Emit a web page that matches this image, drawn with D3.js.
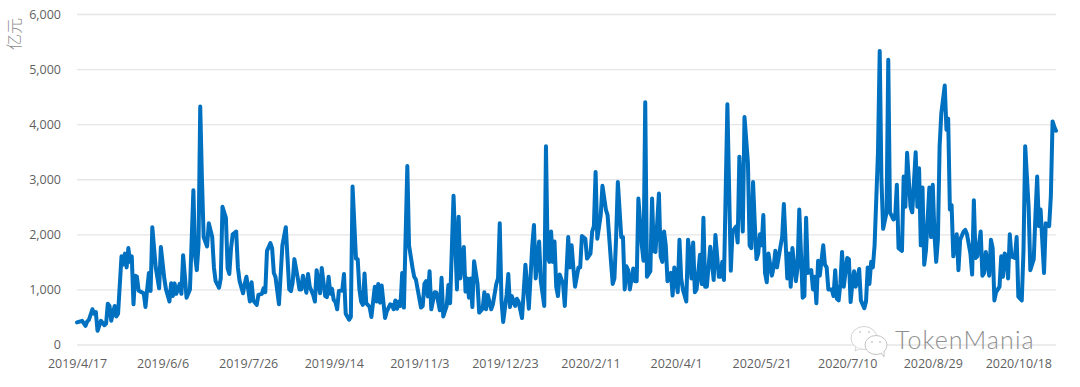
<!DOCTYPE html>
<html>
<head>
<meta charset="utf-8">
<script src="https://cdnjs.cloudflare.com/ajax/libs/d3/7.8.5/d3.min.js"></script>
<style>
  html, body { margin: 0; padding: 0; background: #fff; }
  svg { display: block; }
  text { font-family: "Open Sans", "Noto Sans", sans-serif; }
</style>
</head>
<body>
<svg id="chart" width="1080" height="387"></svg>
<script>
// day number counted from 2019/4/17, paired with the value below it
const days = [
  0,2,3,5,6,7,9,10,11,12,13,14,16,17,18,19,20,21,22,23,24,26,27,28,29,30,31,32,33,34,35,36,37,39,40,41,42,43,44,46,48,49,51,52,54,55,56,57,58,60,
  61,62,63,64,66,68,69,70,71,72,73,74,76,77,79,80,81,83,84,85,87,88,89,90,91,93,94,95,97,98,99,101,102,103,105,106,108,109,110,111,113,114,115,116,118,120,122,124,125,126,
  127,129,130,131,132,134,135,136,138,139,140,142,143,145,146,147,148,149,150,151,152,153,155,156,157,159,160,161,163,164,165,166,167,168,169,171,172,174,175,176,177,178,180,181,183,184,185,186,187,188,
  189,190,191,193,194,196,197,198,201,202,203,204,205,206,207,209,210,212,213,214,216,217,218,220,222,223,224,226,227,228,229,230,231,232,234,235,237,238,239,240,242,243,245,246,247,248,249,251,252,253,
  254,256,257,258,260,262,264,266,267,268,270,271,273,274,275,276,277,278,279,280,281,282,284,285,287,288,289,290,291,293,294,295,297,298,300,301,302,303,304,306,307,309,310,312,313,314,315,316,318,319,
  320,321,322,323,325,326,327,328,330,331,332,333,335,336,337,338,340,341,342,343,344,345,346,347,348,349,351,352,353,354,356,357,358,359,360,361,362,364,365,366,367,368,370,372,373,375,376,377,378,380,
  382,383,385,386,387,389,390,392,393,394,395,396,397,398,399,400,401,402,403,404,406,407,408,409,411,412,413,415,416,417,418,420,421,422,424,425,426,427,429,430,431,432,433,434,436,437,438,439,441,442,
  443,444,445,446,447,448,450,451,452,453,454,455,457,458,460,461,462,463,464,465,466,468,469,470,471,473,474,475,477,478,479,480,482,483,484,485,487,488,490,491,492,493,494,495,496,498,499,500,501,502,
  503,504,505,507,508,509,510,511,512,514,515,516,518,519,520,522,523,524,525,526,528,529,530,531,533,534,535,536,537,539,540,541,542,543,544,545,546,548,549,550,552,553,554,556,557,559,560,561,562,563,
  565,566,568,569,570,571,572
];
const volumes = [
  400,420,430,340,420,450,640,560,590,250,340,430,350,380,740,700,430,560,700,510,560,1600,1450,1650,1400,1750,1500,1600,730,1250,1230,980,960,930,680,1000,1300,970,2130,1400,1020,1770,1200,1000,780,1110,880,1110,920,1100,
  920,1620,1250,850,1000,2800,1600,1350,1800,4320,3000,1950,1780,2200,1950,1400,1150,1030,1200,2500,2300,1380,1280,1750,2000,2050,1400,1150,930,1100,1230,780,1130,800,720,900,920,1020,950,1700,1840,1750,1300,1220,730,1800,2130,1000,970,1130,
  1550,1200,1000,1000,1250,940,1280,1050,900,780,1350,930,1390,880,860,1230,920,1010,810,770,640,970,980,1280,560,450,500,2870,1560,1550,1000,780,720,1290,750,680,500,1050,780,1100,760,1070,480,600,730,720,640,800,650,780,
  700,1300,670,3240,1800,1400,1230,1180,670,700,1100,1150,870,1330,640,950,940,620,1210,510,700,1080,750,2700,1000,2320,1200,1770,960,1200,850,1200,680,1510,1100,580,650,950,640,900,640,730,1100,1200,2200,800,410,900,1280,680,
  880,700,830,780,480,1450,650,1800,2170,1200,1870,1150,700,3600,1600,1500,2050,1500,1870,1050,880,1270,1100,700,1950,1400,1800,1400,1050,1400,1400,1970,1920,1560,1650,2050,2150,3130,1920,2350,2880,2450,2350,1500,1100,1200,1950,2950,1950,1950,
  1000,1420,1350,1000,1380,1150,1150,2650,1800,1520,4400,1230,1330,2650,1700,1680,2740,1600,1500,2050,1800,1150,1200,1300,890,1400,950,1900,1200,1000,780,1900,1650,1200,1850,950,1000,1630,1100,2300,1050,1050,1775,1170,1990,1230,1230,1500,1170,4360,
  1340,2050,2140,1850,3410,2050,4130,3300,1800,1750,2950,2200,1550,1650,2000,1800,2350,1300,1130,1650,1250,1400,1700,1400,1780,1950,2550,1200,1650,1050,1750,1150,1400,2450,850,880,2300,1300,1350,1000,1230,750,1520,1250,1800,1450,1400,1000,1000,880,
  1350,830,800,1100,1680,1050,1570,1550,770,1100,1330,1050,1370,800,660,780,1400,1100,1500,1400,1800,3500,5330,3000,2100,2400,5170,2400,2270,2300,2900,1750,1700,3050,2500,3480,2500,2400,3490,2500,3200,1800,2850,1450,1700,2850,1950,2900,2000,1500,
  1900,3600,4200,4700,3900,4100,2450,2530,1600,2000,1350,1900,2050,2080,2000,1650,1270,2620,1570,1600,2050,1250,1300,1680,1250,1900,1750,800,950,1050,1600,1230,1650,1600,1200,2000,1600,1570,1950,870,800,1700,3600,2500,1350,1550,2350,3050,2150,2450,
  1300,2200,2150,2700,4050,3950,3880
];
const yTicks = [0, 1000, 2000, 3000, 4000, 5000, 6000];
const dateLabels = ['2019/4/17', '2019/6/6', '2019/7/26', '2019/9/14', '2019/11/3', '2019/12/23', '2020/2/11', '2020/4/1', '2020/5/21', '2020/7/10', '2020/8/29', '2020/10/18'];
const labelStep = 50;
const unitLabel = '亿元';
const watermark = 'TokenMania';

const svg = d3.select('#chart');

let x = d3.scaleLinear().domain([0, 572]).range([77, 1056]);
let y = d3.scaleLinear().domain([0, 6000]).range([344.5, 14]);

// gridlines and y labels
let yAxis = d3.axisLeft(y).tickValues(yTicks).tickSize(-(1056 - 77)).tickPadding(16).tickFormat(d3.format(','));
let yG = svg.append('g').attr('transform', 'translate(77,0)').call(yAxis);
yG.select('.domain').remove();
yG.selectAll('line').attr('stroke', '#e6e6e6').attr('stroke-width', 1.4);
yG.selectAll('text').attr('fill', '#5f5f5f').style('font-size', '12.5px');

// date labels, one every 50 days
let xAxis = d3.axisBottom(x)
  .tickValues(dateLabels.map((d, i) => i * labelStep))
  .tickSize(0)
  .tickPadding(9)
  .tickFormat((d, i) => dateLabels[i]);
let xG = svg.append('g').attr('transform', 'translate(0,350)').call(xAxis);
xG.select('.domain').remove();
xG.selectAll('text').attr('fill', '#5f5f5f').style('font-size', '12.5px');

// the series
let line = d3.line().x(d => x(d[0])).y(d => y(d[1]));
svg.append('path')
  .datum(d3.zip(days, volumes))
  .attr('fill', 'none')
  .attr('stroke', '#0070c0')
  .attr('stroke-width', 4)
  .attr('stroke-linejoin', 'round')
  .attr('stroke-linecap', 'round')
  .attr('d', line);

// unit title
svg.append('text')
  .attr('transform', 'translate(20,34) rotate(-90)')
  .attr('text-anchor', 'middle')
  .style('font-family', '"Noto Sans CJK SC"')
  .style('font-weight', 300)
  .style('font-size', '16px')
  .attr('fill', '#8c8c8c')
  .text(unitLabel);

// watermark
let mark = svg.append('g');
mark.append('ellipse').attr('cx', 864).attr('cy', 338).attr('rx', 13).attr('ry', 11.5)
  .attr('fill', '#fff').attr('stroke', '#d4d4d4').attr('stroke-width', 1);
mark.append('path').attr('d', 'M856 347 L855 351 L860 348.5').attr('fill', '#fff').attr('stroke', '#d4d4d4');
mark.append('ellipse').attr('cx', 876).attr('cy', 345).attr('rx', 11).attr('ry', 9.5)
  .attr('fill', '#fff').attr('stroke', '#c4c4c4').attr('stroke-width', 1);
mark.append('path').attr('d', 'M881 353 L884 357 L884 351').attr('fill', '#fff').attr('stroke', '#c4c4c4');
[[860, 332], [869, 332], [872, 342], [880, 342]].forEach(p => {
  mark.append('circle').attr('cx', p[0]).attr('cy', p[1]).attr('r', 1).attr('fill', '#cfcfcf');
});
mark.append('text')
  .attr('x', 895).attr('y', 349)
  .style('font-family', 'Lato')
  .style('font-weight', 300)
  .style('font-size', '25px')
  .style('letter-spacing', '1.1px')
  .attr('fill', '#8f8f8f')
  .text(watermark);
</script>
</body>
</html>
